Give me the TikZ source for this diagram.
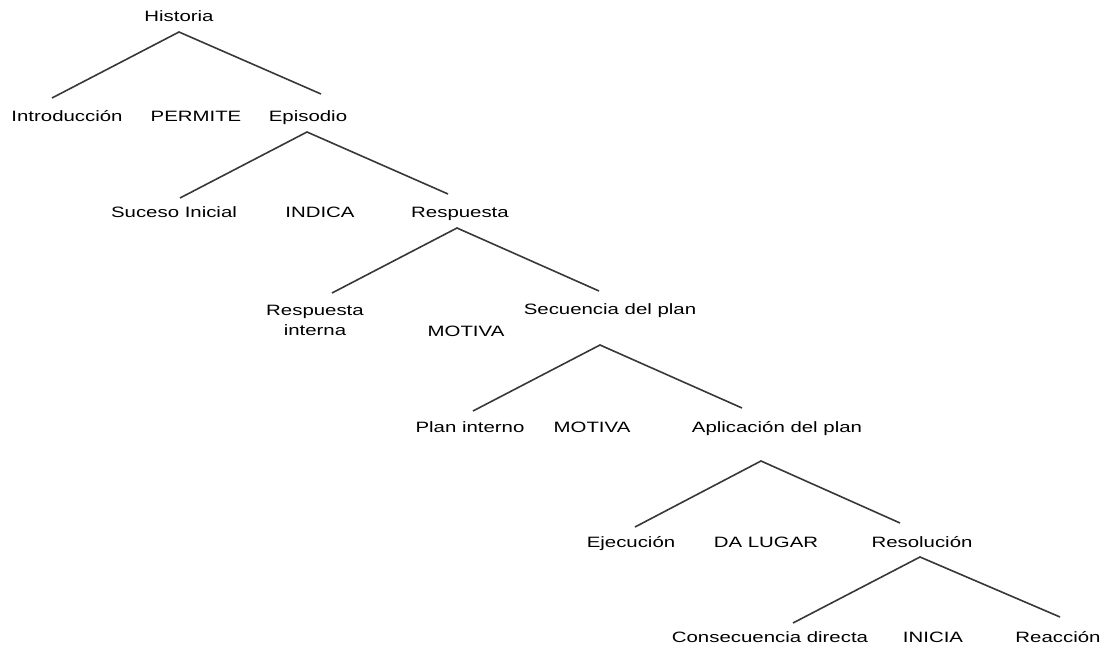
\documentclass[tikz,border=0pt]{standalone}
\usepackage{fontspec}
\setmainfont{Liberation Sans}[FakeStretch=1.36]
\begin{document}
\begin{tikzpicture}[x=1pt,y=-1pt,
    lbl/.style={anchor=base,inner sep=0pt,font=\fontsize{15}{20}\selectfont},
    leg/.style={line width=1.6pt,color=black!78}]
  \useasboundingbox (0,0) rectangle (1109,647);
  % labels
  \node[lbl] (hist) at (179,22) {Historia};
  \node[lbl] (intro) at (67,122) {Introducción};
  \node[lbl] (permite) at (196,122) {PERMITE};
  \node[lbl] (epis) at (308,122) {Episodio};
  \node[lbl] (suceso) at (174,218) {Suceso Inicial};
  \node[lbl] (indica) at (320,218) {INDICA};
  \node[lbl] (resp) at (460,218) {Respuesta};
  \node[lbl,align=center] (respint) at (315,335) {Respuesta\\interna};
  \node[lbl] (motivaA) at (466,336) {MOTIVA};
  \node[lbl] (secu) at (610,314) {Secuencia del plan};
  \node[lbl] (planint) at (470,432) {Plan interno};
  \node[lbl] (motivaB) at (592,432) {MOTIVA};
  \node[lbl] (aplic) at (777,432) {Aplicación del plan};
  \node[lbl] (ejec) at (631,547) {Ejecución};
  \node[lbl] (dalugar) at (766,547) {DA LUGAR};
  \node[lbl] (resol) at (922,547) {Resolución};
  \node[lbl] (consec) at (770,642) {Consecuencia directa};
  \node[lbl] (inicia) at (933,642) {INICIA};
  \node[lbl] (reacc) at (1058,642) {Reacción};

  % apexes and leg ends
  \coordinate (hist-a) at (179,32);
  \coordinate (intro-t) at (52,98);
  \coordinate (epis-t) at (321,94);
  \coordinate (epis-a) at (307,132);
  \coordinate (suceso-t) at (180,198);
  \coordinate (resp-t) at (448,194);
  \coordinate (resp-a) at (457,228);
  \coordinate (respint-t) at (332,293);
  \coordinate (secu-t) at (599,291);
  \coordinate (secu-a) at (600,345);
  \coordinate (planint-t) at (473,411);
  \coordinate (aplic-t) at (742,408);
  \coordinate (aplic-a) at (761,461);
  \coordinate (ejec-t) at (635,527);
  \coordinate (resol-t) at (900,523);
  \coordinate (resol-a) at (920,557);
  \coordinate (consec-t) at (793,623);
  \coordinate (reacc-t) at (1060,617);

  \draw[leg] (intro-t) -- (hist-a) -- (epis-t);
  \draw[leg] (suceso-t) -- (epis-a) -- (resp-t);
  \draw[leg] (respint-t) -- (resp-a) -- (secu-t);
  \draw[leg] (planint-t) -- (secu-a) -- (aplic-t);
  \draw[leg] (ejec-t) -- (aplic-a) -- (resol-t);
  \draw[leg] (consec-t) -- (resol-a) -- (reacc-t);
\end{tikzpicture}
\end{document}
